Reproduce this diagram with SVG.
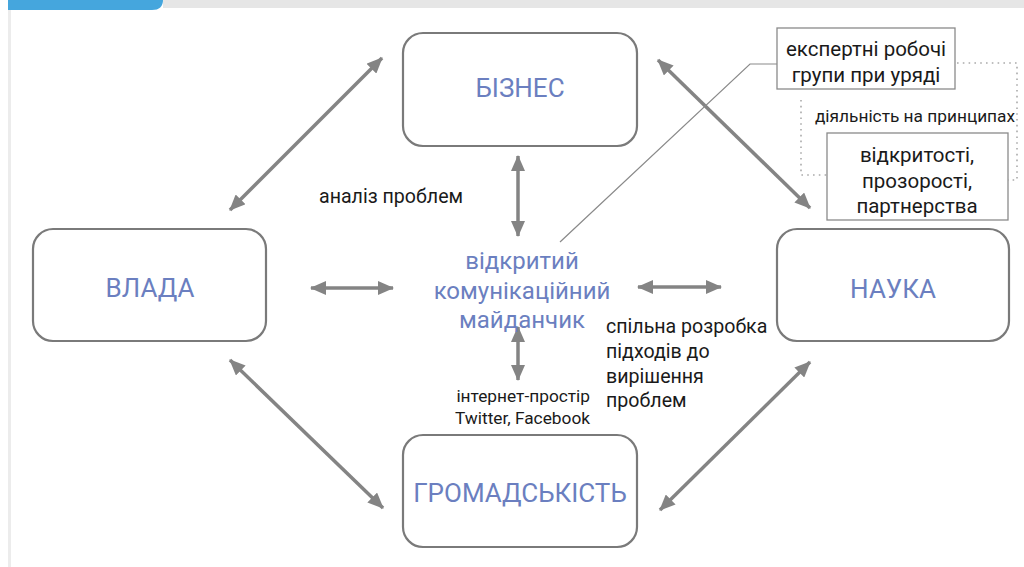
<svg xmlns="http://www.w3.org/2000/svg" width="1024" height="567" viewBox="0 0 1024 567">
<defs>
<style>
.node{fill:#fff;stroke:#7a7a7a;stroke-width:2.2}
.nl{font-family:Roboto,"Noto Sans",sans-serif;font-size:26px;fill:#6b7fc0;text-anchor:middle}
.cl{font-family:Roboto,"Noto Sans",sans-serif;font-size:24px;fill:#6b7fc0;text-anchor:middle}
.t{font-family:Roboto,"Noto Sans",sans-serif;font-size:19.6px;fill:#1a1a1a}
.tb{font-family:Roboto,"Noto Sans",sans-serif;font-size:20.5px;fill:#1a1a1a;text-anchor:middle}
.ts{font-family:Roboto,"Noto Sans",sans-serif;font-size:17.3px;fill:#1a1a1a}
.box{fill:#fff;stroke:#8a8a8a;stroke-width:1.3}
.ar{stroke:#848484;stroke-width:3.5;fill:none;marker-start:url(#ah);marker-end:url(#ah)}
.dot{fill:none;stroke:#aaa;stroke-width:1.6;stroke-dasharray:1.6 4.2}
</style>
<marker id="ah" viewBox="0 0 16 14" refX="15" refY="7" markerWidth="16" markerHeight="14" markerUnits="userSpaceOnUse" orient="auto-start-reverse">
<path d="M0,0 L16,7 L0,14 Z" fill="#848484"/>
</marker>
</defs>
<rect width="1024" height="567" fill="#fff"/>
<rect x="163" y="0" width="861" height="8" fill="#e6e6e6"/>
<path d="M8,0 H163 V0 Q163,10 152,10 H8 Z" fill="#45a6dd"/>
<rect x="8" y="10" width="3" height="557" fill="#ececec"/>

<g id="connectors">
<line class="ar" x1="382" y1="58" x2="230" y2="210"/>
<line class="ar" x1="658" y1="60" x2="810" y2="208"/>
<line class="ar" x1="230" y1="360" x2="383" y2="508"/>
<line class="ar" x1="810" y1="362" x2="660" y2="510"/>
<line class="ar" x1="518" y1="156" x2="518" y2="236"/>
<line class="ar" x1="518" y1="327" x2="518" y2="380"/>
<line class="ar" x1="311" y1="288" x2="393" y2="288"/>
<line class="ar" x1="638" y1="287" x2="721" y2="287"/>
<polyline points="777,64 750,64 560,242" fill="none" stroke="#8a8a8a" stroke-width="1.2"/>
<polyline class="dot" points="957,63 1017,63 1017,180 1008,180"/>
<polyline class="dot" points="801,100 801,175 827,175"/>
</g>

<g id="biznes"><rect class="node" x="403" y="33" width="234" height="113" rx="20"/><text class="nl" x="520" y="97">БІЗНЕС</text></g>
<g id="vlada"><rect class="node" x="33" y="229" width="233" height="112" rx="20"/><text class="nl" x="150" y="297">ВЛАДА</text></g>
<g id="nauka"><rect class="node" x="777" y="229" width="232" height="112" rx="20"/><text class="nl" x="893" y="298">НАУКА</text></g>
<g id="hromadskist"><rect class="node" x="403" y="435" width="234" height="112" rx="20"/><text class="nl" x="520" y="502">ГРОМАДСЬКІСТЬ</text></g>

<g id="center">
<text class="cl" x="522" y="269">відкритий</text>
<text class="cl" x="522" y="299">комунікаційний</text>
<text class="cl" x="522" y="328">майданчик</text>
</g>

<g id="labels">
<text class="t" x="319" y="203">аналіз проблем</text>
<text class="t" x="606" y="333">спільна розробка</text>
<text class="t" x="606" y="358">підходів до</text>
<text class="t" x="606" y="383">вирішення</text>
<text class="t" x="606" y="407">проблем</text>
<text class="ts" x="590" y="402" text-anchor="end">інтернет-простір</text>
<text class="ts" x="590" y="424" text-anchor="end">Twitter, Facebook</text>
</g>

<g id="expert">
<rect class="box" x="777" y="28" width="178" height="61"/>
<text class="tb" x="866" y="56">експертні робочі</text>
<text class="tb" x="866" y="82">групи при уряді</text>
</g>
<g id="principles-label"><text class="ts" x="915" y="122" text-anchor="middle">діяльність на принципах</text></g>
<g id="principles">
<rect class="box" x="827" y="133" width="181" height="87"/>
<text class="tb" x="917" y="162" text-anchor="middle">відкритості,</text>
<text class="tb" x="917" y="188" text-anchor="middle">прозорості,</text>
<text class="tb" x="917" y="213" text-anchor="middle">партнерства</text>
</g>
</svg>
